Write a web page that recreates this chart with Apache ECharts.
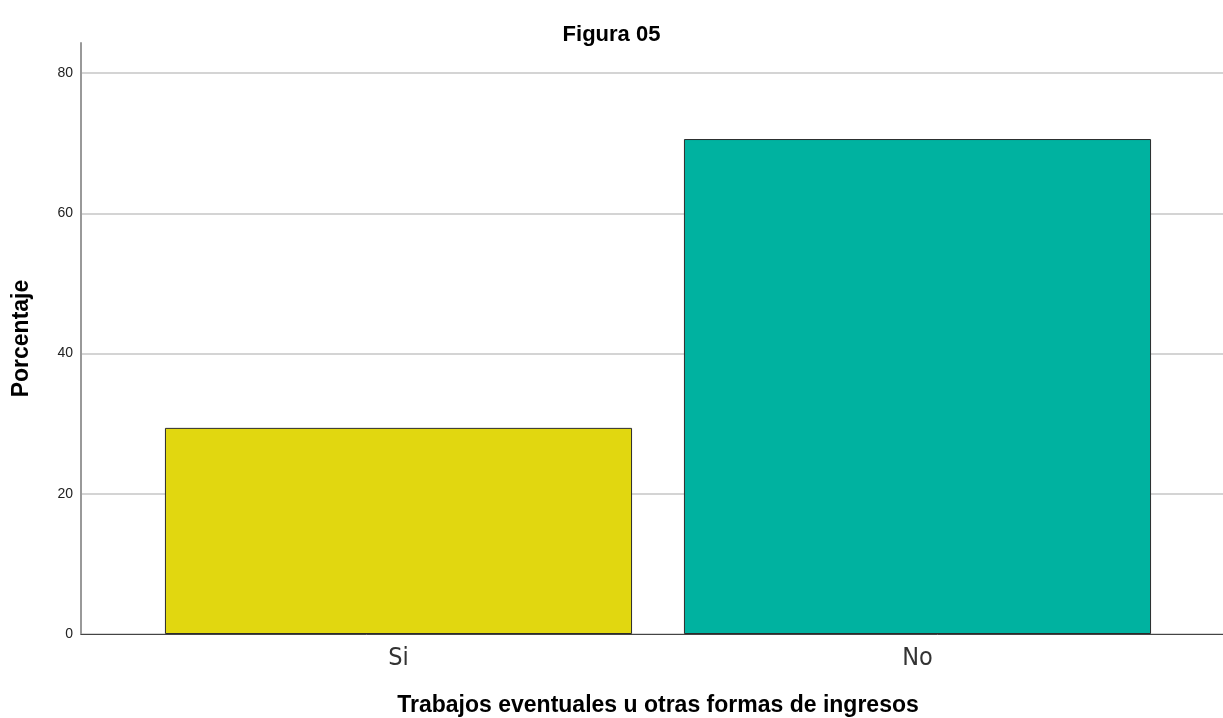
<!DOCTYPE html>
<html>
<head>
<meta charset="utf-8">
<script src="https://cdn.jsdelivr.net/npm/echarts@6/dist/echarts.min.js"></script>
<style>
html, body { margin: 0; padding: 0; background: #fff; }
#chart { width: 1223px; height: 718px; }
</style>
</head>
<body>
<div id="chart"></div>
<script>
var categories = ['Si', 'No'];
var values = [29.4, 70.6];
var barColors = ['#e1d710', '#00b2a0'];
var yTicks = [0, 20, 40, 60, 80];

var font = '"Liberation Sans", Arial, sans-serif';
var narrow = '"Liberation Sans Narrow", "Arial Narrow", "DejaVu Sans Condensed", sans-serif';
var yMin = 0, yMax = 84.3;

var chart = echarts.init(document.getElementById('chart'));
chart.setOption({
    animation: false,
    backgroundColor: '#fff',
    title: {
        text: 'Figura 05',
        left: 'center',
        top: 19,
        textStyle: { fontFamily: font, fontSize: 22, fontWeight: 'bold', color: '#000' }
    },
    grid: [
        { left: 81, right: 0, top: 43, bottom: 84, outerBoundsMode: 'none' },
        { left: 139, right: 46, top: 43, bottom: 84, outerBoundsMode: 'none' }
    ],
    xAxis: [{
        gridIndex: 0,
        type: 'value',
        min: 0, max: 1,
        axisLine: { show: true, lineStyle: { color: '#444', width: 1 } },
        axisTick: { show: false },
        axisLabel: { show: false },
        splitLine: { show: false }
    }, {
        gridIndex: 1,
        type: 'category',
        data: categories,
        axisLine: { show: false },
        axisTick: { show: false },
        axisLabel: { fontFamily: narrow, fontSize: 25, color: '#333', margin: 12 },
        name: 'Trabajos eventuales u otras formas de ingresos',
        nameLocation: 'middle',
        nameGap: 60,
        nameTextStyle: { fontFamily: font, fontSize: 23, fontWeight: 'bold', color: '#000' }
    }],
    yAxis: [{
        gridIndex: 0,
        type: 'value',
        min: yMin, max: yMax,
        interval: 20,
        axisLine: { show: true, lineStyle: { color: '#999', width: 2 } },
        axisTick: { show: false },
        axisLabel: {
            fontFamily: font, fontSize: 14, color: '#222', margin: 8,
            formatter: function (v) { return yTicks.indexOf(v) >= 0 ? String(v) : ''; }
        },
        splitLine: { show: true, showMaxLine: false, lineStyle: { color: '#d4d4d4', width: 2 } },
        name: 'Porcentaje',
        nameLocation: 'middle',
        nameGap: 48,
        nameRotate: 90,
        nameTextStyle: { fontFamily: font, fontSize: 23, fontWeight: 'bold', color: '#000' }
    }, {
        gridIndex: 1,
        type: 'value',
        min: yMin, max: yMax,
        show: false
    }],
    series: [{
        type: 'bar',
        xAxisIndex: 1,
        yAxisIndex: 1,
        barWidth: '90%',
        data: values.map(function (v, i) {
            return { value: v, itemStyle: { color: barColors[i] } };
        }),
        itemStyle: { borderColor: '#2b2b2b', borderWidth: 1 }
    }]
});
</script>
</body>
</html>
